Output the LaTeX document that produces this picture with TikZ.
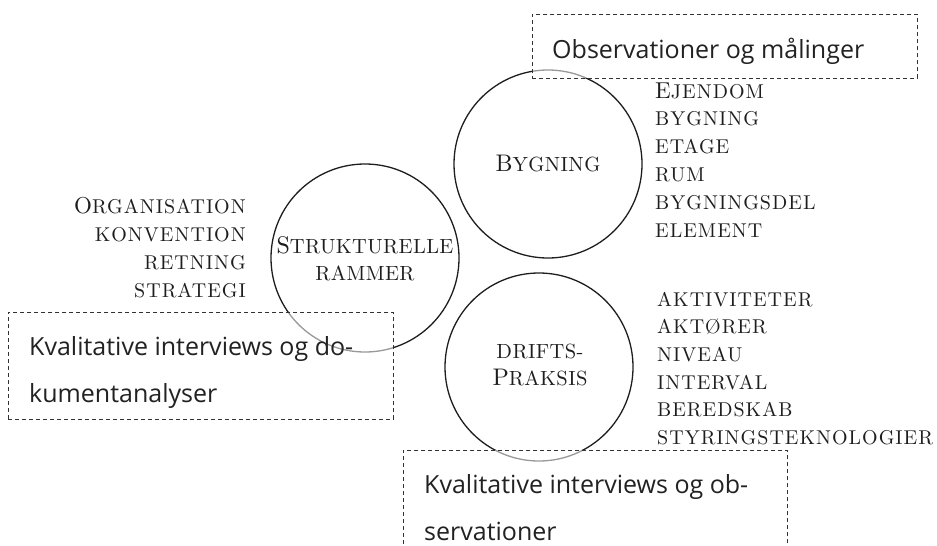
\documentclass[tikz,border=0pt]{standalone}
\usepackage{fontspec}
\newfontfamily\boxfont{Open Sans}
\newfontfamily\listfont{lmroman10-regular.otf}[LetterSpace=5]
\newfontfamily\ringfont{lmroman10-regular.otf}[LetterSpace=2]
\definecolor{ink}{HTML}{1E1E1E}
\definecolor{boxink}{HTML}{222222}
\definecolor{dashink}{HTML}{333333}
% larger initial for the small-caps style headings
\newcommand\Ini[2][23]{{\fontsize{#1}{#1}\selectfont #2}}

\begin{document}
\begin{tikzpicture}[x=1pt,y=-1pt,
  ring/.style={circle, draw=ink, line width=1.3pt, minimum size=188pt, inner sep=0pt},
  ringlabel/.style={inner sep=0pt, anchor=base, align=center, text=ink,
    font=\ringfont\fontsize{20.5}{27}\selectfont},
  listitem/.style={inner sep=0pt, text=ink,
    font=\listfont\fontsize{20}{20}\selectfont},
  methodbox/.style={draw=dashink, dash pattern=on 4pt off 3pt, line width=0.9pt,
    fill=white, fill opacity=0.55, inner sep=0pt, anchor=north west},
  methodtext/.style={inner sep=0pt, anchor=base west, text=boxink,
    font=\boxfont\fontsize{25}{25}\selectfont}]
\useasboundingbox (0,0) rectangle (937,546);

% the three circles
\node[ring] (bygning) at (548,164) {};
\node[ring] (rammer)  at (365,258) {};
\node[ring] (drift)   at (539,367) {};

\node[ringlabel] (bygningtxt) at (548,171) {\Ini[24]{B}YGNING};
\node[ringlabel] (rammertxt1) at (365,253) {\Ini[24]{S}TRUKTURELLE};
\node[ringlabel] (rammertxt2) at (365,280) {RAMMER};
\node[ringlabel] (drifttxt1) at (540,358) {DRIFTS-};
\node[ringlabel] (drifttxt2) at (540,385) {\Ini[24]{P}RAKSIS};

% lists beside the circles
\foreach \t [count=\i] in {\Ini{E}JENDOM, BYGNING, ETAGE, RUM, BYGNINGSDEL, ELEMENT}
  \node[listitem, anchor=base west] (bl\i) at (655,{98+27.8*(\i-1)}) {\t};
\foreach \t [count=\i] in {\Ini{O}RGANISATION, KONVENTION, RETNING, STRATEGI}
  \node[listitem, anchor=base east] (rl\i) at (246,{213+28*(\i-1)}) {\t};
\foreach \t [count=\i] in {AKTIVITETER, AKTØRER, NIVEAU, INTERVAL, BEREDSKAB, STYRINGSTEKNOLOGIER}
  \node[listitem, anchor=base west] (dl\i) at (657,{306+27.7*(\i-1)}) {\t};

% method boxes (semi-transparent, drawn over the circles)
\node[methodbox, minimum width=385pt, minimum height=64pt] (obsbox) at (532,14) {};
\node[methodbox, minimum width=385pt, minimum height=107pt] (dokbox) at (8,312) {};
\node[methodbox, minimum width=384pt, minimum height=150pt] (intbox) at (403,450) {};

\node[methodtext] (obstxt) at (552,58) {Observationer og målinger};
\node[methodtext] (doktxt1) at (29,355) {Kvalitative interviews og do-};
\node[methodtext] (doktxt2) at (29,402) {kumentanalyser};
\node[methodtext] (inttxt1) at (424,493) {Kvalitative interviews og ob-};
\node[methodtext] (inttxt2) at (424,540) {servationer};
\end{tikzpicture}
\end{document}
